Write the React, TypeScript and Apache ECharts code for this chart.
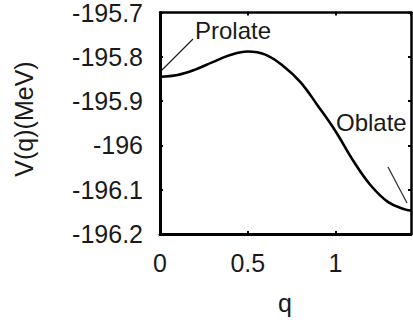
import React, { useEffect, useRef } from "react";
import * as echarts from "echarts";

const qValues = [0, 0.1, 0.2, 0.3, 0.4, 0.5, 0.6, 0.7, 0.8, 0.9, 1.0, 1.1, 1.2, 1.3, 1.4, 1.43];
const vValues = [-195.845, -195.841, -195.829, -195.812, -195.796, -195.788, -195.795, -195.82, -195.857, -195.911, -195.968, -196.034, -196.09, -196.128, -196.145, -196.147];
const xTicks = [0, 0.5, 1];
const yRange = [-196.2, -195.7];
const xRange = [0, 1.43];
const xName = "q";
const yName = "V(q)(MeV)";
const labels = ["Prolate", "Oblate"];

const FONT = "'Liberation Sans', Arial, Helvetica, sans-serif";

export default function App() {
  const ref = useRef<HTMLDivElement>(null);
  useEffect(() => {
    if (!ref.current) return;
    const chart = echarts.init(ref.current, undefined, { renderer: "svg" });
    const data = qValues.map((q, i) => [q, vValues[i]]);
    const xFmt = (v: number) =>
      xTicks.some((t) => Math.abs(t - v) < 1e-6) ? String(v) : "";
    const yFmt = (v: number) => String(Number(v.toFixed(1)));
    const axisLabelStyle = { fontFamily: FONT, fontSize: 25, color: "#1a1a1a" };
    chart.setOption({
      animation: false,
      backgroundColor: "#ffffff",
      grid: { left: 160, right: 2, top: 7, bottom: 89, containLabel: false },
      xAxis: [
        {
          type: "value",
          position: "bottom",
          min: xRange[0],
          max: xRange[1],
          interval: 0.5,
          axisLine: { show: true, onZero: false, lineStyle: { color: "#000", width: 3 } },
          axisTick: { show: true, inside: true, length: 3, lineStyle: { color: "#000", width: 2 } },
          axisLabel: { ...axisLabelStyle, margin: 16, formatter: xFmt, showMaxLabel: false },
          splitLine: { show: false },
        },
        {
          type: "value",
          position: "top",
          min: xRange[0],
          max: xRange[1],
          interval: 0.5,
          axisLine: { show: true, onZero: false, lineStyle: { color: "#000", width: 2.5 } },
          axisTick: { show: true, inside: true, length: 3, lineStyle: { color: "#000", width: 2 } },
          axisLabel: { show: false },
          splitLine: { show: false },
        },
      ],
      yAxis: [
        {
          type: "value",
          position: "left",
          min: yRange[0],
          max: yRange[1],
          interval: 0.1,
          axisLine: { show: true, onZero: false, lineStyle: { color: "#000", width: 3 } },
          axisTick: { show: true, inside: true, length: 3, lineStyle: { color: "#000", width: 2 } },
          axisLabel: {
            ...axisLabelStyle,
            margin: 17,
            formatter: yFmt,
            verticalAlignMaxLabel: "middle",
            verticalAlignMinLabel: "middle",
          },
          splitLine: { show: false },
        },
        {
          type: "value",
          position: "right",
          min: yRange[0],
          max: yRange[1],
          interval: 0.1,
          axisLine: { show: true, onZero: false, lineStyle: { color: "#000", width: 2.5 } },
          axisTick: { show: true, inside: true, length: 3, lineStyle: { color: "#000", width: 2 } },
          axisLabel: { show: false },
          splitLine: { show: false },
        },
      ],
      series: [
        {
          type: "line",
          data,
          smooth: 0.4,
          showSymbol: false,
          symbol: "none",
          lineStyle: { color: "#000", width: 2.6 },
          xAxisIndex: 0,
          yAxisIndex: 0,
        },
      ],
      graphic: [
        {
          type: "text",
          x: 24,
          y: 119,
          rotation: Math.PI / 2,
          style: { text: yName, font: `25px ${FONT}`, fill: "#1a1a1a", align: "center", verticalAlign: "middle" },
        },
        {
          type: "text",
          x: 285,
          y: 303,
          style: { text: xName, font: `25px ${FONT}`, fill: "#1a1a1a", align: "center", verticalAlign: "middle" },
        },
        {
          type: "text",
          x: 195,
          y: 30,
          style: { text: labels[0], font: `24px ${FONT}`, fill: "#1a1a1a", align: "left", verticalAlign: "middle" },
        },
        {
          type: "text",
          x: 336,
          y: 122,
          style: { text: labels[1], font: `24px ${FONT}`, fill: "#1a1a1a", align: "left", verticalAlign: "middle" },
        },
        {
          type: "line",
          shape: { x1: 193, y1: 39, x2: 162, y2: 70 },
          style: { stroke: "#222", lineWidth: 1.3 },
        },
        {
          type: "line",
          shape: { x1: 388, y1: 167, x2: 407, y2: 203 },
          style: { stroke: "#333", lineWidth: 1.3 },
        },
      ],
    });
    return () => chart.dispose();
  }, []);
  return (
    <div
      ref={ref}
      style={{ position: "fixed", left: 0, top: 0, width: 413, height: 323, background: "#fff" }}
    />
  );
}
